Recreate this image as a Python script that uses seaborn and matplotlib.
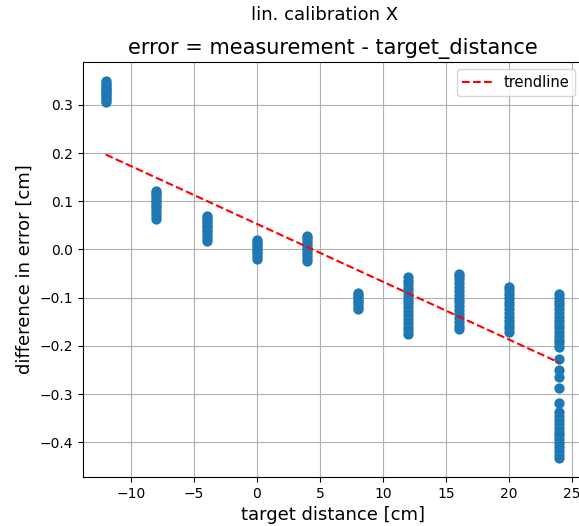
import numpy as np
import pandas as pd
import seaborn as sns
import matplotlib
matplotlib.use("Agg")
import matplotlib.pyplot as plt

# target distances [cm]
targets = [-12, -8, -4, 0, 4, 8, 12, 16, 20, 24]

# error values measured at each target distance
err_m12 = [0.306, 0.310, 0.314, 0.318, 0.322, 0.326, 0.330, 0.334, 0.338, 0.342, 0.346, 0.350]
err_m8 = [0.064, 0.070, 0.076, 0.082, 0.088, 0.093, 0.098, 0.103, 0.108, 0.113, 0.118, 0.122]
err_m4 = [0.018, 0.024, 0.030, 0.036, 0.041, 0.046, 0.051, 0.056, 0.061, 0.066, 0.070]
err_0 = [-0.020, -0.014, -0.008, -0.003, 0.002, 0.007, 0.012, 0.016, 0.020]
err_4 = [-0.024, -0.018, -0.012, -0.006, 0.000, 0.006, 0.012, 0.018, 0.023, 0.027]
err_8 = [-0.124, -0.119, -0.114, -0.109, -0.104, -0.099, -0.094, -0.090]
err_12 = [-0.176, -0.168, -0.160, -0.152, -0.144, -0.136, -0.128, -0.120, -0.112, -0.104,
          -0.096, -0.088, -0.080, -0.072, -0.065, -0.058]
err_16 = [-0.166, -0.158, -0.150, -0.142, -0.134, -0.126, -0.118, -0.110, -0.102, -0.094,
          -0.086, -0.078, -0.070, -0.062, -0.056, -0.050]
err_20 = [-0.172, -0.164, -0.156, -0.148, -0.140, -0.132, -0.124, -0.116, -0.108, -0.100,
          -0.092, -0.084, -0.077]
err_24 = [-0.092, -0.100, -0.108, -0.116, -0.124, -0.132, -0.140, -0.148, -0.156, -0.164,
          -0.172, -0.180, -0.188, -0.195, -0.202, -0.227, -0.250, -0.265, -0.288, -0.319,
          -0.338, -0.346, -0.354, -0.362, -0.370, -0.378, -0.386, -0.394, -0.402, -0.410,
          -0.418, -0.426, -0.433]

# trendline end points
trend_x = [-12, 24]
trend_y = [0.197, -0.235]

groups = [err_m12, err_m8, err_m4, err_0, err_4, err_8, err_12, err_16, err_20, err_24]
df = pd.DataFrame({
    "target": np.concatenate([[t] * len(g) for t, g in zip(targets, groups)]),
    "error": np.concatenate(groups),
})

plt.rcParams["font.family"] = ["DejaVu Sans"]

fig = plt.figure(figsize=(5.79, 5.26), dpi=100)
ax = fig.add_axes([0.1434, 0.0932, 0.862, 0.789])

sns.scatterplot(data=df, x="target", y="error", ax=ax, color="#1f77b4",
                s=55, linewidth=0, zorder=3)
ax.plot(trend_x, trend_y, "r--", label="trendline", zorder=4)

ax.grid(True, color="#b0b0b0", linewidth=0.8)
ax.set_axisbelow(True)
ax.set_xticks([-10, -5, 0, 5, 10, 15, 20, 25])
ax.tick_params(labelsize=10)
ax.set_xlabel("target distance [cm]", fontsize=13)
ax.set_ylabel("difference in error [cm]", fontsize=13)
ax.set_title("error = measurement - target_distance", fontsize=15)
ax.legend(loc="upper right", fontsize=10.5)

fig.suptitle("lin. calibration X", x=0.56, y=0.971, va="center", fontsize=13)

fig.savefig("out.png", dpi=100)
